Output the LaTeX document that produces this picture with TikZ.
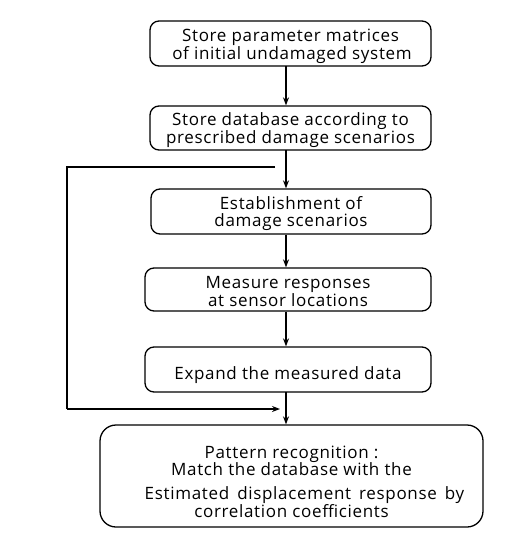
\documentclass[tikz,border=0pt]{standalone}
\usepackage{fontspec}
\setmainfont{Open Sans}[LetterSpace=4]
\usetikzlibrary{arrows.meta}
\begin{document}
\begin{tikzpicture}[x=1pt,y=-1pt,
  box/.style={draw,line width=1.3pt,rounded corners=9pt,inner sep=0pt},
  txt/.style={align=center,inner sep=0pt,font=\fontsize{17}{17.5}\selectfont},
  conn/.style={line width=1.3pt,-{Stealth[length=8pt,width=6pt]}},
  wire/.style={line width=1.3pt}]
\useasboundingbox (0,0) rectangle (509,551);
\node[box,minimum width=281pt,minimum height=45pt] (b1) at (290.5,43.5) {};
\node[txt] (b1t) at ([yshift=-3pt]b1.center)
  {Store parameter matrices\\\hspace*{3pt}of initial undamaged system};
\node[box,minimum width=281pt,minimum height=44pt] (b2) at (290.5,128) {};
\node[txt] (b2t) at ([yshift=-2pt]b2.center)
  {Store database according to\\prescribed damage scenarios};
\node[box,minimum width=280pt,minimum height=45pt] (b3) at (291,211.5) {};
\node[txt] (b3t) at ([yshift=-2pt]b3.center)
  {Establishment of\\damage scenarios};
\node[box,minimum width=286pt,minimum height=43pt] (b4) at (288,289.5) {};
\node[txt] (b4t) at ([yshift=-2pt]b4.center)
  {Measure responses\\at sensor locations};
\node[box,minimum width=286pt,minimum height=45pt] (b5) at (288,369.5) {};
\node[txt] (b5t) at ([yshift=-6pt]b5.center)
  {Expand the measured data};
\node[box,minimum width=383pt,minimum height=102pt,rounded corners=16pt] (b6) at (291.5,476) {};
\node[txt,font=\fontsize{17}{17}\selectfont] (b6t) at ([yshift=-6pt]b6.center)
  {Pattern recognition :\\Match the database with the\\[7pt]
   \hspace*{26pt}{\spaceskip=8pt plus 1pt Estimated displacement response by}\\correlation coefficients};
\coordinate (t1) at (286,66);
\coordinate (t2) at (286,150);
\coordinate (t5) at (286,392);
\coordinate (l1) at (275,167);
\coordinate (l2) at (67,167);
\coordinate (l3) at (67,409);
\coordinate (l4) at (280,409);
\draw[conn] (t1) -- (t1 |- b2.north);
\draw[conn] (t2) -- (t2 |- b3.north);
\draw[conn] (b3.south -| t1) -- (b4.north -| t1);
\draw[conn] (b4.south -| t1) -- (b5.north -| t1);
\draw[conn] (t5) -- (t5 |- b6.north);
\draw[wire] (l1) -- (l2) -- (l3);
\draw[conn] (l3) -- (l4);
\end{tikzpicture}
\end{document}
